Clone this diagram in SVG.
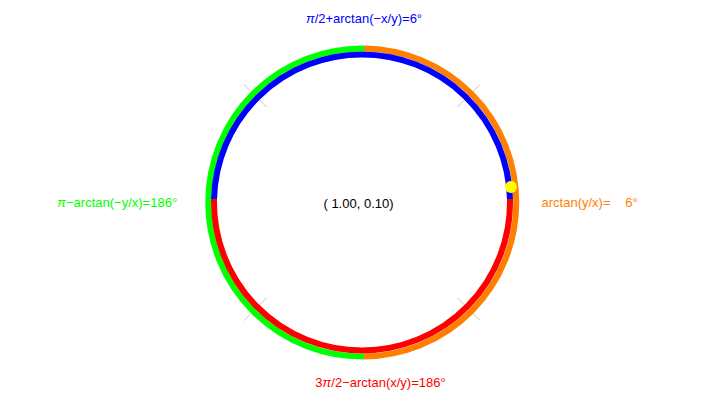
<svg xmlns="http://www.w3.org/2000/svg" width="720" height="405" viewBox="0 0 720 405">
<style>
.lbl{font-family:"Liberation Sans",Arial,sans-serif;font-size:13px}
.ring{fill:none;stroke-width:6}
.tick{stroke:#bdbdbd;stroke-width:0.9}
</style>
<rect width="720" height="405" fill="#ffffff"/>
<g id="ticks">
<line class="tick" x1="457.46" y1="107.04" x2="480.09" y2="84.41"/>
<line class="tick" x1="266.54" y1="107.04" x2="243.91" y2="84.41"/>
<line class="tick" x1="266.54" y1="297.96" x2="243.91" y2="320.59"/>
<line class="tick" x1="457.46" y1="297.96" x2="480.09" y2="320.59"/>
</g>
<g id="outer-ring">
<path id="arc-green" class="ring" stroke="#00ff00" d="M364,48.51 A154,154 0 1 0 364,356.49"/>
<path id="arc-orange" class="ring" stroke="#ff7f00" d="M364,48.51 A154,154 0 0 1 364,356.49"/>
</g>
<g id="inner-ring">
<path id="arc-blue" class="ring" stroke="#0000ff" d="M214.04,199 A148,148 0 0 1 509.96,199"/>
<path id="arc-red" class="ring" stroke="#ff0000" d="M214.04,199 A148,148 0 1 0 509.96,199"/>
</g>
<g id="point">
<circle cx="511" cy="187" r="6" fill="#ffff00"/>
</g>
<g id="labels">
<text class="lbl" x="364" y="23" text-anchor="middle" fill="#0000ff"><tspan font-style="italic">π</tspan>/2+arctan(−x/y)=6°</text>
<text class="lbl" x="541.5" y="206.5" fill="#ff7f00">arctan(y/x)=</text>
<text class="lbl" x="637.7" y="206.5" text-anchor="end" fill="#ff7f00">6°</text>
<text class="lbl" x="57.3" y="206.5" fill="#00ff00"><tspan font-style="italic">π</tspan>−arctan(−y/x)=186°</text>
<text class="lbl" x="380.5" y="387.3" text-anchor="middle" fill="#ff0000">3<tspan font-style="italic">π</tspan>/2−arctan(x/y)=186°</text>
<text class="lbl" x="358.5" y="207.5" text-anchor="middle" fill="#000000">( 1.00, 0.10)</text>
</g>
</svg>
